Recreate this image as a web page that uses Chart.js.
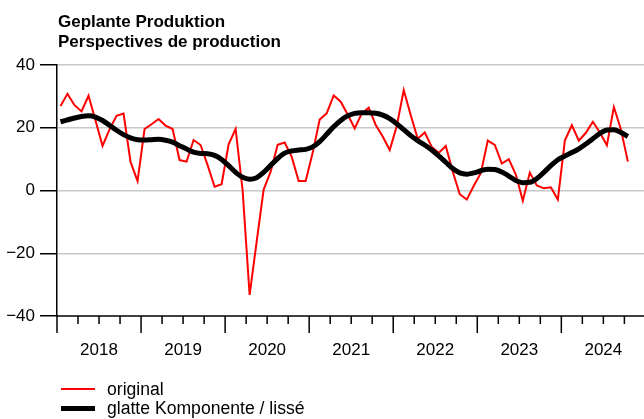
<!DOCTYPE html>
<html>
<head>
<meta charset="utf-8">
<script src="https://cdn.jsdelivr.net/npm/chart.js@4.4.1/dist/chart.umd.min.js"></script>
<style>
  body { margin: 0; background: #fff; }
  #wrap { width: 644px; height: 419px; }
</style>
</head>
<body>
<div id="wrap"><canvas id="chart" width="644" height="419"></canvas></div>
<script>
// monthly values, Jan 2018 - Oct 2024
const years = ['2018', '2019', '2020', '2021', '2022', '2023', '2024'];
const yTicks = [-40, -20, 0, 20, 40];
const titleLines = ['Geplante Produktion', 'Perspectives de production'];
const legendLabels = ['original', 'glatte Komponente / lissé'];

const original = [
  26.9, 30.8, 27.2, 25.2, 30.2, 22.3, 14.2, 19.5, 23.8, 24.5, 9.1, 3.0,
  19.6, 21.1, 22.8, 20.7, 19.6, 9.7, 9.2, 16.1, 14.5, 8.1, 1.2, 2.0,
  14.7, 19.6, 0.0, -33.3, -16.4, 0.3, 6.0, 14.6, 15.3, 10.8, 3.0, 3.0,
  12.0, 22.6, 24.6, 30.3, 28.3, 24.2, 19.8, 24.5, 26.4, 20.9, 17.2, 12.9,
  20.5, 32.0, 24.0, 16.5, 18.5, 13.9, 12.0, 14.2, 6.0, -1.2, -2.9, 1.5,
  5.5, 15.9, 14.5, 8.6, 10.0, 5.1, -3.3, 5.7, 1.6, 0.7, 1.0, -2.9,
  15.9, 20.8, 15.9, 18.4, 21.9, 18.5, 14.4, 26.6, 19.5, 9.2
];

const smooth = [
  21.9, 22.5, 23.1, 23.6, 23.8, 23.4, 22.3, 20.8, 19.2, 17.8, 16.8, 16.2,
  16.1, 16.2, 16.3, 16.0, 15.4, 14.3, 13.2, 12.2, 11.8, 11.7, 11.2, 9.9,
  7.9, 5.8, 4.2, 3.6, 4.1, 5.8, 8.0, 10.2, 11.9, 12.6, 12.9, 13.1,
  13.9, 15.6, 17.9, 20.3, 22.3, 23.8, 24.6, 24.8, 24.8, 24.6, 24.0, 22.9,
  21.3, 19.4, 17.5, 15.9, 14.5, 12.9, 11.0, 9.0, 7.0, 5.6, 5.2, 5.6,
  6.3, 6.8, 6.7, 5.9, 4.6, 3.2, 2.5, 2.6, 3.8, 5.8, 7.9, 9.8,
  11.0, 12.1, 13.3, 14.8, 16.5, 18.2, 19.3, 19.4, 18.5, 17.2
];

const FONT = '"Liberation Sans", Arial, sans-serif';

// mid-month positions on a month-index axis
const toPoints = arr => arr.map((v, i) => ({ x: i + 0.5, y: v }));

const decorations = {
  id: 'decorations',
  afterDraw(chart) {
    const ctx = chart.ctx;
    const x = chart.scales.x;
    const area = chart.chartArea;
    ctx.save();

    // x axis line + quarter / year ticks
    ctx.strokeStyle = '#000';
    ctx.lineWidth = 1.5;
    ctx.beginPath();
    ctx.moveTo(area.left, area.bottom);
    ctx.lineTo(area.right, area.bottom);
    for (let m = 0; m <= x.max; m += 3) {
      const px = x.getPixelForValue(m);
      const len = m % 12 === 0 ? 17 : 8;
      ctx.moveTo(px, area.bottom);
      ctx.lineTo(px, area.bottom + len);
    }
    ctx.stroke();

    ctx.fillStyle = '#000';
    ctx.font = '17px ' + FONT;
    ctx.textAlign = 'center';
    ctx.textBaseline = 'alphabetic';
    years.forEach((y, k) => {
      ctx.fillText(y, x.getPixelForValue(k * 12 + 6), 355);
    });

    // title
    ctx.textAlign = 'left';
    ctx.font = 'bold 17px ' + FONT;
    ctx.fillText(titleLines[0], 58, 27);
    ctx.fillText(titleLines[1], 58, 47);

    // legend
    ctx.font = '17.6px ' + FONT;
    chart.data.datasets.forEach((ds, i) => {
      const ly = 389 + i * 19.5;
      ctx.strokeStyle = ds.borderColor;
      ctx.lineWidth = ds.borderWidth;
      ctx.beginPath();
      ctx.moveTo(61, ly);
      ctx.lineTo(95, ly);
      ctx.stroke();
      ctx.fillText(legendLabels[i], 107, ly + 5.5);
    });
    ctx.restore();
  }
};

new Chart(document.getElementById('chart'), {
  type: 'line',
  data: {
    datasets: [
      {
        label: legendLabels[0],
        data: toPoints(original),
        borderColor: '#ff0000',
        borderWidth: 2,
        pointRadius: 0,
        tension: 0,
        order: 1
      },
      {
        label: legendLabels[1],
        data: toPoints(smooth),
        borderColor: '#000000',
        borderWidth: 5,
        pointRadius: 0,
        cubicInterpolationMode: 'monotone',
        order: 0
      }
    ]
  },
  options: {
    responsive: false,
    animation: false,
    layout: { padding: { left: 0, right: 0, top: 65, bottom: 103 } },
    plugins: { legend: { display: false }, tooltip: { enabled: false } },
    scales: {
      x: {
        type: 'linear',
        min: 0,
        max: 83.8,
        display: false
      },
      y: {
        min: -40,
        max: 40,
        afterFit: s => { s.width = 57; },
        afterBuildTicks: s => { s.ticks = yTicks.map(v => ({ value: v })); },
        ticks: {
          color: '#000',
          padding: 5,
          font: { family: FONT, size: 17 },
          callback: v => (v < 0 ? '\u2212' + Math.abs(v) : String(v))
        },
        grid: {
          color: c => (c.tick && c.tick.value === -40 ? 'rgba(0,0,0,0)' : '#c8c8c8'),
          lineWidth: 1.5,
          tickColor: '#000',
          tickLength: 17,
          tickWidth: 1.5
        },
        border: { display: true, color: '#000', width: 1.5 }
      }
    }
  },
  plugins: [decorations]
});
</script>
</body>
</html>
